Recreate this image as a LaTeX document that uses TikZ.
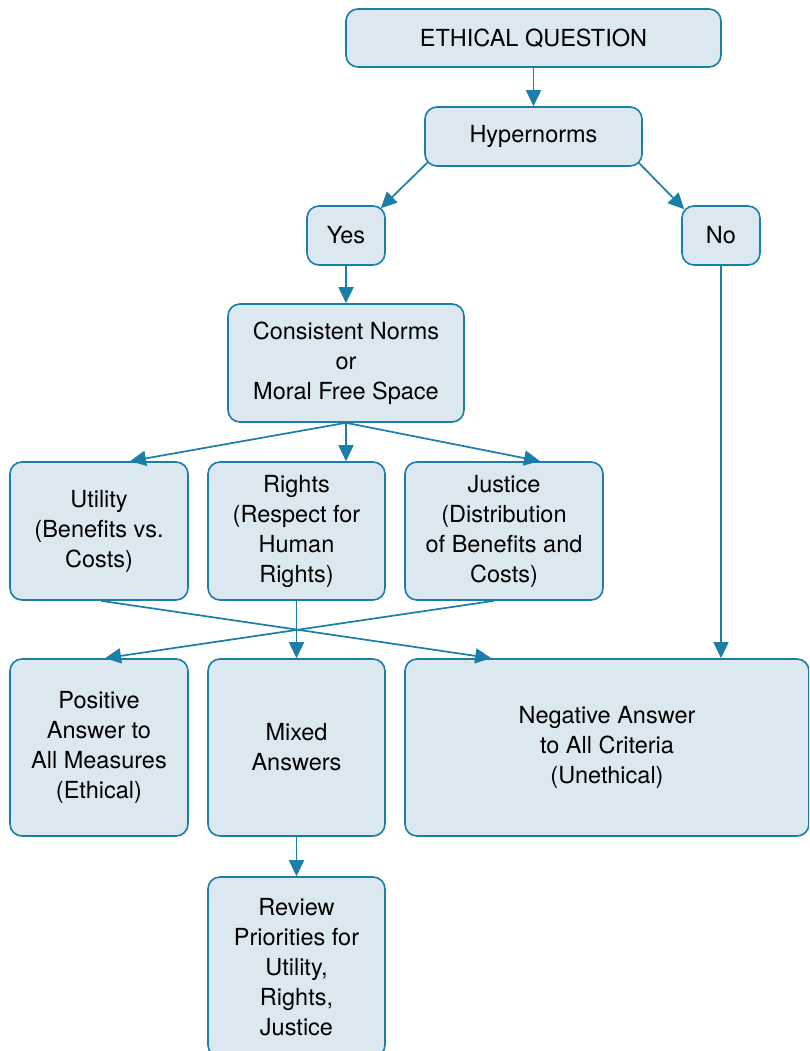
\documentclass[tikz,border=0pt]{standalone}
\usepackage{fontspec}
\setmainfont{TeX Gyre Heros}
\usetikzlibrary{arrows.meta,calc}
\definecolor{boxfill}{HTML}{DCE8F0}
\definecolor{boxline}{HTML}{1A7EA9}
\begin{document}
\begin{tikzpicture}[x=1pt,y=-1pt,
  box/.style={draw=boxline, fill=boxfill, line width=1.6pt, rounded corners=12pt,
    inner sep=0pt, align=center, font=\fontsize{23.5}{30}\selectfont},
  conn/.style={draw=boxline, line width=1.7pt, -{Triangle[length=16pt,width=15pt]}}]
\clip (0,0) rectangle (809,1051);
\fill[white] (0,0) rectangle (809,1051);
\node[box, minimum width=375pt, minimum height=58pt] (eq) at (533.5,38) {ETHICAL QUESTION};
\node[box, minimum width=217pt, minimum height=59pt] (hyp) at (533.5,136.5) {Hypernorms};
\node[box, minimum width=78pt, minimum height=59pt] (yes) at (346,235.5) {Yes};
\node[box, minimum width=78pt, minimum height=59pt] (no) at (721,235.5) {No};
\node[box, minimum width=236pt, minimum height=118pt] (cons) at (346,363) {Consistent Norms\\or\\Moral Free Space};
\node[box, minimum width=178pt, minimum height=138pt] (util) at (99,531) {Utility\\(Benefits vs.\\Costs)};
\node[box, minimum width=177pt, minimum height=138pt] (rights) at (296.5,531) {Rights\\(Respect for\\Human\\Rights)};
\node[box, minimum width=198pt, minimum height=138pt] (just) at (504,531) {Justice\\(Distribution\\of Benefits and\\Costs)};
\node[box, minimum width=178pt, minimum height=177pt] (pos) at (99,747.5) {Positive\\Answer to\\All Measures\\(Ethical)};
\node[box, minimum width=177pt, minimum height=177pt] (mixed) at (296.5,747.5) {Mixed\\Answers};
\node[box, minimum width=404pt, minimum height=177pt] (neg) at (607,747.5) {Negative Answer\\to All Criteria\\(Unethical)};
\node[box, minimum width=177pt, minimum height=180pt] (rev) at (296.5,967) {Review\\Priorities for\\Utility,\\Rights,\\Justice};
% connectors
\draw[conn] (eq.south) -- (hyp.north);
\draw[conn] ($(hyp.south west)+(4,-5)$) -- ($(yes.north east)+(-5,3)$);
\draw[conn] ($(hyp.south east)+(-4,-4)$) -- ($(no.north west)+(3,4)$);
\draw[conn] (yes.south) -- (cons.north);
\draw[conn] (cons.south) -- ($(util.north)+(31,0)$);
\draw[conn] (cons.south) -- (cons.south |- rights.north);
\draw[conn] (cons.south) -- ($(just.north)+(36,0)$);
\draw[conn] ($(util.south)+(2,0)$) -- ($(neg.north west)+(87,0)$);
\draw[conn] ($(just.south)+(-10,0)$) -- ($(pos.north)+(6,0)$);
\draw[conn] (rights.south) -- (mixed.north);
\draw[conn] (no.south) -- (no.south |- neg.north);
\draw[conn] (mixed.south) -- (rev.north);
\end{tikzpicture}
\end{document}
